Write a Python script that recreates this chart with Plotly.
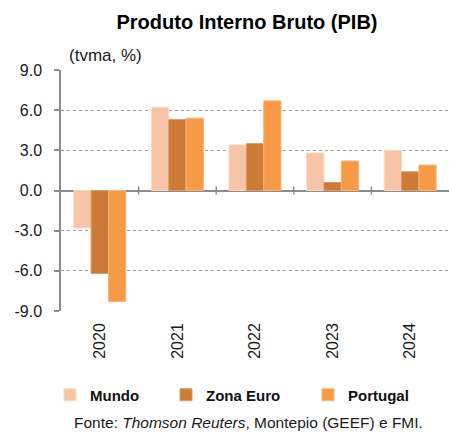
import plotly.graph_objects as go

years = ["2020", "2021", "2022", "2023", "2024"]
mundo = [-2.8, 6.2, 3.4, 2.8, 3.0]
zona_euro = [-6.2, 5.3, 3.5, 0.6, 1.4]
portugal = [-8.3, 5.4, 6.7, 2.2, 1.9]
y_ticks = [-9, -6, -3, 0, 3, 6, 9]
y_tick_labels = ["-9.0", "-6.0", "-3.0", "0.0", "3.0", "6.0", "9.0"]

W, H = 449, 432
L, R, T, B = 61, 0, 70, 121
PW, PH = W - L - R, H - T - B


def px(x):  # screen x -> paper x
    return (x - L) / PW


def py(y):  # screen y -> paper y
    return (H - B - y) / PH


series = [
    ("Mundo", mundo, "#F8C4A8", "#FBD9C6", "legend", px(50)),
    ("Zona Euro", zona_euro, "#CD7A37", "#DB9A66", "legend2", px(166)),
    ("Portugal", portugal, "#F69A48", "#F9B57A", "legend3", px(308)),
]

fig = go.Figure()
legend_font = dict(size=15, color="#111", family="Liberation Sans, Arial, sans-serif",
                   weight="bold")
legends = {}
for name, vals, col, edge, lg, lx in series:
    fig.add_trace(go.Bar(
        x=years, y=vals, name=name, legend=lg, hoverinfo="skip",
        marker=dict(color=col, line=dict(color=edge, width=1)),
    ))
    legends[lg] = dict(orientation="h", x=lx, xanchor="left", y=py(395),
                       yanchor="middle", font=legend_font, itemwidth=30,
                       bgcolor="rgba(0,0,0,0)", borderwidth=0)

# category boundary ticks crossing the zero line
for i in range(1, len(years)):
    fig.add_shape(type="line", xref="x", yref="y",
                  x0=i - 0.5, x1=i - 0.5, y0=-0.3, y1=0.3,
                  line=dict(color="#8C8C8C", width=1.5))

fig.update_layout(
    width=W, height=H,
    margin=dict(l=L, r=R, t=T, b=B),
    paper_bgcolor="white", plot_bgcolor="white",
    barmode="group", bargap=0.33, bargroupgap=0,
    hovermode=False,
    font=dict(family="Liberation Sans, Arial, sans-serif", color="#1a1a1a", size=16),
    title=dict(text="<b>Produto Interno Bruto (PIB)</b>", x=247 / W, xanchor="center",
               y=1 - 22 / H, yanchor="middle", font=dict(size=20, color="#000")),
    showlegend=True,
    **legends,
)

fig.update_yaxes(
    range=[-9, 9], tickvals=y_ticks, ticktext=y_tick_labels,
    showgrid=True, gridcolor="#A0A0A0", griddash="dot", gridwidth=1,
    zeroline=True, zerolinecolor="#8C8C8C", zerolinewidth=1.5,
    showline=True, linecolor="#8C8C8C", linewidth=1.5,
    ticks="outside", ticklen=5, tickcolor="#8C8C8C", tickwidth=1.5,
    ticklabelstandoff=9, tickfont=dict(size=16, color="#1a1a1a"),
)
fig.update_xaxes(
    showline=False, ticks="", tickangle=-90, showgrid=False,
    tickfont=dict(size=16, color="#1a1a1a"), ticklabelstandoff=8,
)

fig.add_annotation(text="(tvma, %)", xref="paper", yref="paper",
                   x=px(67), y=py(55), xanchor="left", yanchor="middle",
                   showarrow=False, font=dict(size=17, color="#1a1a1a"))
fig.add_annotation(text="Fonte: <i>Thomson Reuters</i>, Montepio (GEEF) e FMI.",
                   xref="paper", yref="paper", x=px(248), xanchor="center",
                   y=py(422), yanchor="middle", showarrow=False,
                   font=dict(size=15.5, color="#1a1a1a"))

fig.write_html(
    "out.html",
    config={"displayModeBar": False},
    post_script="document.body.style.margin='0';document.body.style.overflow='hidden';",
)
